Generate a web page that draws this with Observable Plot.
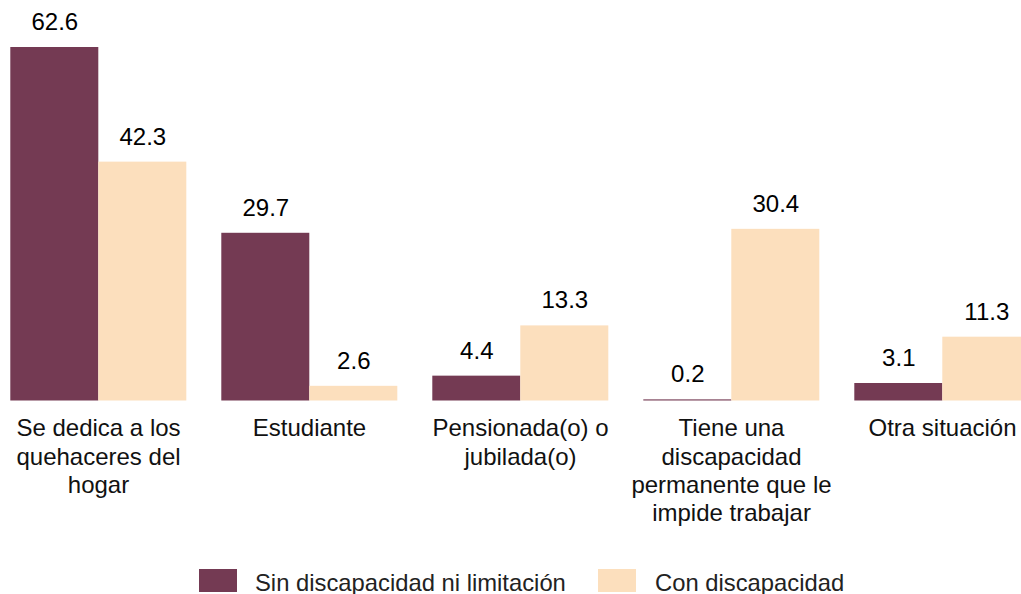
<!DOCTYPE html>
<html>
<head>
<meta charset="utf-8">
<script src="https://cdn.jsdelivr.net/npm/d3@7"></script>
<script src="https://cdn.jsdelivr.net/npm/@observablehq/plot@0.6"></script>
<style>
  html, body { margin: 0; padding: 0; background: #fff; overflow: hidden; }
  #wrap { position: relative; width: 1021px; height: 594px; font-family: "Liberation Sans", Arial, sans-serif; }
  #legend { position: absolute; left: 0; top: 569px; width: 1021px; height: 30px; font-size: 23.8px; color: #222; }
  .sw { position: absolute; top: 0; width: 38px; height: 23px; }
  .lt { position: absolute; top: 1.5px; white-space: nowrap; line-height: 1; }
</style>
</head>
<body>
<div id="wrap">
  <div id="chart"></div>
  <div id="legend"></div>
</div>
<script>
const categories = [
  "Se dedica a los\nquehaceres del\nhogar",
  "Estudiante",
  "Pensionada(o) o\njubilada(o)",
  "Tiene una\ndiscapacidad\npermanente que le\nimpide trabajar",
  "Otra situación"
];
const seriesNames = ["Sin discapacidad ni limitación", "Con discapacidad"];
const sinValues = [62.6, 29.7, 4.4, 0.2, 3.1];
const conValues = [42.3, 2.6, 13.3, 30.4, 11.3];
const colors = ["#743a53", "#fcdfbd"];

const data = [];
categories.forEach((c, i) => {
  data.push({cat: c, series: seriesNames[0], value: sinValues[i]});
  data.push({cat: c, series: seriesNames[1], value: conValues[i]});
});

const font = "'Liberation Sans', Arial, sans-serif";

const chart = Plot.plot({
  width: 1021,
  height: 594,
  marginLeft: 8.7,
  marginRight: -11.3,
  marginTop: 47,
  marginBottom: 193.5,
  style: {fontFamily: font, fontSize: "24px", background: "#fff", overflow: "hidden"},
  fx: {domain: categories, padding: 0.1637, paddingOuter: 0, axis: null, label: null},
  x: {domain: seriesNames, padding: 0, axis: null, label: null},
  y: {domain: [0, 62.6], axis: null, label: null},
  color: {domain: seriesNames, range: colors},
  marks: [
    Plot.barY(data, {fx: "cat", x: "series", y: "value", fill: "series", inset: 0}),
    Plot.text(data, {fx: "cat", x: "series", y: "value", text: d => d.value.toFixed(1),
      lineAnchor: "bottom", dy: -17.5, fontSize: 24, fill: "#000"}),
    Plot.text(categories, {fx: d => d, text: d => d, frameAnchor: "bottom",
      lineAnchor: "top", dy: 15.5, lineHeight: 1.17, fontSize: 24, fill: "#111", textAnchor: "middle"})
  ]
});
document.getElementById("chart").appendChild(chart);

const legend = document.getElementById("legend");
const items = [
  {name: seriesNames[0], color: colors[0], swX: 199, txX: 255},
  {name: seriesNames[1], color: colors[1], swX: 598, txX: 655}
];
items.forEach(it => {
  const sw = document.createElement("div");
  sw.className = "sw";
  sw.style.left = it.swX + "px";
  sw.style.background = it.color;
  legend.appendChild(sw);
  const t = document.createElement("div");
  t.className = "lt";
  t.style.left = it.txX + "px";
  t.textContent = it.name;
  legend.appendChild(t);
});
</script>
</body>
</html>
